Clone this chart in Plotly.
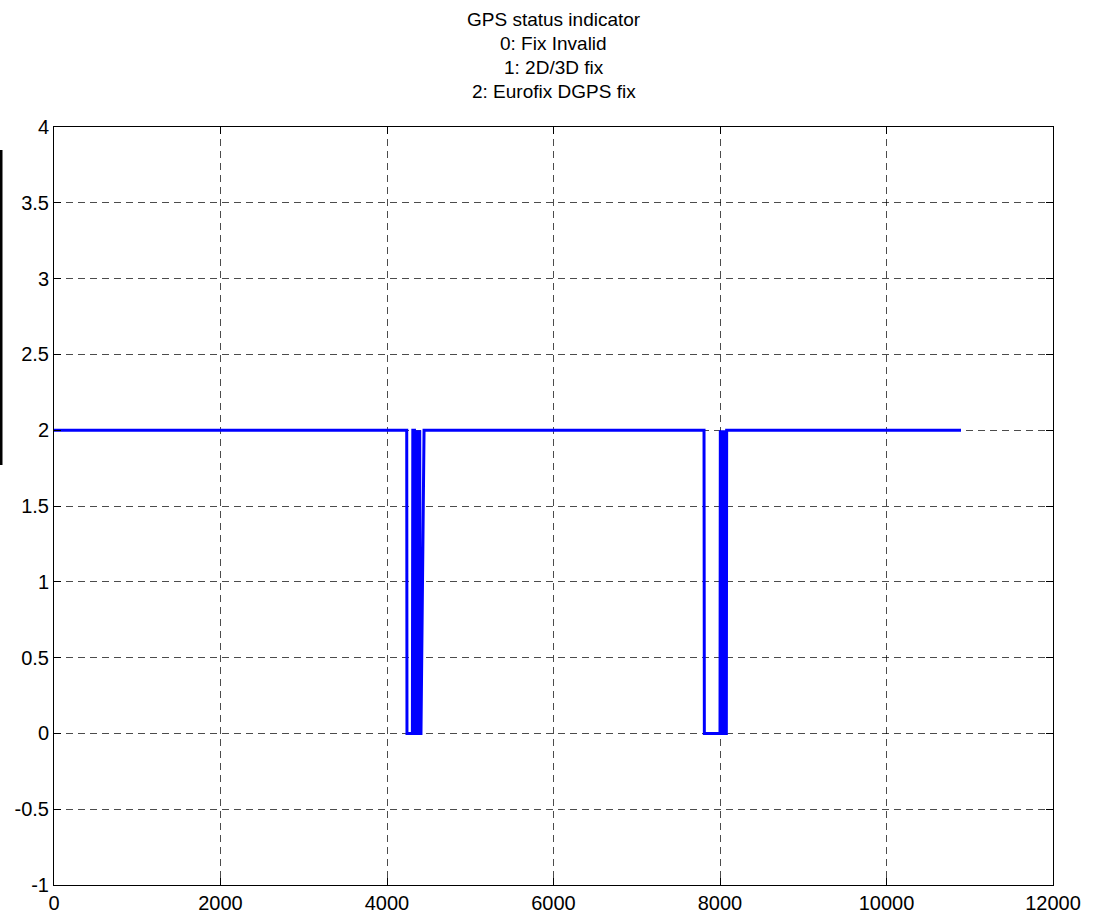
import plotly.graph_objects as go

# GPS status indicator sample index vs status value (breakpoints)
sample_idx = [0, 4237, 4240, 4305, 4310, 4330, 4335, 4345, 4348, 4352, 4365, 4368, 4372,
              4390, 4393, 4397, 4408, 4445,
              7808, 7812, 8000, 8004, 8008, 8030, 8034, 8038, 8060, 8064, 8068, 8076, 8080, 10895]
status = [2, 2, 0, 0, 2, 2, 0, 0, 2, 0, 0, 2, 0,
          0, 2, 0, 0, 2,
          2, 0, 0, 2, 0, 0, 2, 0, 0, 2, 0, 0, 2, 2]

x_ticks = [0, 2000, 4000, 6000, 8000, 10000, 12000]
y_ticks = [-1, -0.5, 0, 0.5, 1, 1.5, 2, 2.5, 3, 3.5, 4]
y_labels = ["-1", "-0.5", "0", "0.5", "1", "1.5", "2", "2.5", "3", "3.5", "4"]
title_lines = ["GPS status indicator", "0: Fix Invalid", "1: 2D/3D fix", "2: Eurofix DGPS fix"]

fig = go.Figure()
fig.add_trace(go.Scatter(x=sample_idx, y=status, mode="lines",
                         line=dict(color="#0000ff", width=3), showlegend=False))

W, H = 1103, 916
L, R, T, B = 54, 50, 127, 31
PH = H - T - B

axis_common = dict(showline=True, linecolor="black", linewidth=1, mirror="ticks",
                   ticks="inside", ticklen=7, tickcolor="black", tickwidth=1,
                   showgrid=True, gridcolor="rgba(0,0,0,0.7)", gridwidth=1,
                   griddash="7px,5px", zeroline=False,
                   tickfont=dict(family="Liberation Sans, Arial", size=20, color="black"))

fig.update_xaxes(range=[0, 12000], tickvals=x_ticks, ticktext=[str(v) for v in x_ticks], **axis_common)
fig.update_yaxes(range=[-1, 4], tickvals=y_ticks, ticktext=y_labels, **axis_common)

title_y = [20, 44, 68, 92]
for line, yc in zip(title_lines, title_y):
    fig.add_annotation(text=line, xref="paper", yref="paper",
                       x=0.5, y=1 + (T - yc) / PH, xanchor="center", yanchor="middle",
                       showarrow=False, align="center",
                       font=dict(family="Liberation Sans, Arial", size=19, color="black"))

# dark vertical bar at the far left edge of the figure
fig.add_shape(type="rect", xref="paper", yref="paper",
              x0=(0 - L) / (W - L - R), x1=(2.5 - L) / (W - L - R),
              y0=(H - B - 465) / PH, y1=(H - B - 150) / PH,
              fillcolor="black", line=dict(width=0))

fig.update_layout(width=W, height=H, margin=dict(l=L, r=R, t=T, b=B, autoexpand=False),
                  plot_bgcolor="white", paper_bgcolor="white")

fig.write_html("out.html", config={"displayModeBar": False},
               post_script="document.body.style.margin='0px';document.body.style.overflow='hidden';")
